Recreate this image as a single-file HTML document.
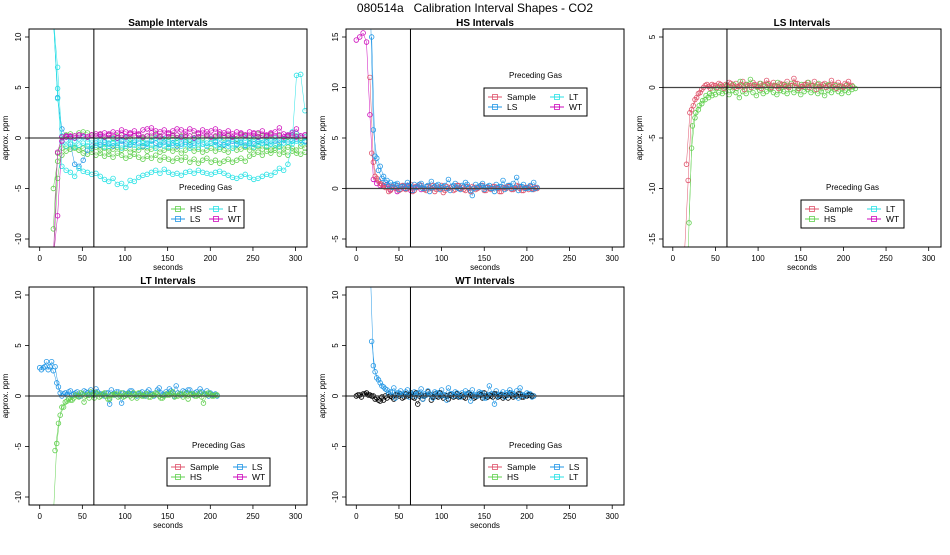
<!DOCTYPE html>
<html><head><meta charset="utf-8"><style>
body{margin:0;background:#fff;width:950px;height:550px;overflow:hidden}
svg{font-family:"Liberation Sans",sans-serif}
</style></head><body>
<svg id="chart" width="950" height="550" viewBox="0 0 950 550" xmlns="http://www.w3.org/2000/svg">
<text x="475" y="12" text-anchor="middle" font-size="12" style="white-space:pre">080514a   Calibration Interval Shapes - CO2</text>
</svg>
<script>
const xTicks=[0,50,100,150,200,250,300];
const gasColors={Sample:"#DF536B",HS:"#61D04F",LS:"#2297E6",LT:"#28E2E5",WT:"#CD0BBC",K:"#000000"};
// Panel 1 – Sample intervals (t0=16, dt=5)
const p1_HS_a=[-5.0,-2.3,-1.7,-1.3,-1.1,-1.0,-1.2,-1.5,-1.6,-1.4,-1.7,-1.5,-1.8,-1.6,-1.9,-1.5,-1.7,-2.0,-1.8,-1.6,-1.9,-2.1,-1.8,-2.0,-1.7,-2.2,-1.9,-2.1,-2.3,-2.0,-2.2,-1.9,-2.4,-2.1,-2.5,-2.2,-2.0,-2.4,-2.2,-2.5,-2.3,-2.1,-2.4,-2.2,-2.0,-2.3,-1.8,-1.6,-1.4,-1.7,-1.3,-1.5,-1.2,-1.6,-1.4,-1.7,-1.3,-1.5,-1.6,-1.4];
const p1_HS_b=[-9,-1.5,0.1,0.3,0.4,0.2,0.5,0.6,0.5,0.3,0.2,0.4,0.1,0.3,0,0.2,0.3,0.1,-0.1,0.2,0.3,0,0.2,0.1,0.4,0.2,-0.1,0.1,0.3,0,0.2,0.1,-0.2,0.3,0.1,0,0.2,-0.1,0.1,0.3,0,0.2,0.1,-0.1,0.3,0.2,0,0.1,0.4,0.2,0.1,0.3,0,0.2,-0.1,0.1,0.3,0.2,0,0.1];
const p1_HS_c=[-12,-4,-1.0,-0.8,-1.1,-0.9,-1.2,-1.0,-0.8,-1.1,-0.9,-1.2,-1.0,-1.3,-1.1,-0.9,-1.2,-1.0,-1.4,-1.1,-1.2,-0.9,-1.3,-1.1,-1.0,-1.4,-1.2,-1.0,-1.3,-1.1,-1.5,-1.2,-1.0,-1.3,-1.1,-1.4,-1.2,-1.0,-1.3,-1.1,-1.2,-1.4,-1.0,-1.2,-1.1,-0.9,-1.2,-1.0,-0.8,-1.1,-0.9,-1.2,-1.0,-0.8,-1.1,-0.9,-1.0,-1.2,-0.8,-1.0];
const p1_LS=[12,4.0,0.9,0.2,-0.6,-2.6,-2.8,-2.2,-1.2,-0.8,-0.5,-0.7,-0.4,-0.6,-0.8,-0.5,-0.3,-0.6,-0.7,-0.4,-0.5,-0.8,-0.6,-0.3,-0.5,-0.7,-0.4,-0.6,-0.5,-0.8,-0.6,-0.4,-0.7,-0.5,-0.3,-0.6,-0.8,-0.5,-0.4,-0.6,-0.7,-0.5,-0.3,-0.6,-0.4,-0.7,-0.5,-0.6,-0.3,-0.5,-0.4,-0.6,-0.3,-0.5,-0.2,-0.4,-0.3,-0.1,-0.2,-0.3];
const p1_LT_a=[12,4.9,-2.8,-3.2,-3.4,-3.8,-3.0,-3.3,-3.4,-3.6,-3.5,-3.8,-4.1,-4.3,-4.0,-4.6,-4.5,-4.9,-4.2,-4.3,-3.9,-3.7,-3.6,-3.4,-3.2,-3.5,-3.1,-3.4,-3.6,-3.5,-3.7,-3.4,-3.3,-3.5,-3.2,-3.4,-3.5,-3.6,-3.4,-3.3,-3.5,-3.7,-3.9,-4.0,-3.8,-3.6,-3.9,-4.1,-4.0,-3.8,-3.6,-3.7,-3.4,-3.0,-3.2,-2.6,-0.3,6.2,6.3,2.7];
const p1_LT_b=[12,7.0,-0.4,-0.8,-0.6,-0.9,-0.7,-0.5,-0.8,-1.0,-0.7,-0.6,-0.9,-0.8,-0.5,-0.7,-1.0,-0.8,-0.6,-0.7,-0.9,-0.5,-0.8,-0.7,-1.0,-0.6,-0.8,-0.9,-0.7,-0.5,-0.8,-0.6,-1.0,-0.7,-0.9,-0.6,-0.8,-0.5,-0.7,-0.9,-0.6,-0.8,-1.0,-0.7,-0.5,-0.8,-0.6,-0.9,-0.7,-0.5,-0.8,-0.6,-0.7,-0.9,-0.5,-0.4,-0.6,-0.3,-0.5,-0.4];
const p1_LT_c=[12,3.9,0.2,-0.2,0.0,-0.3,-0.1,0.1,-0.4,-0.2,-0.3,0.0,-0.2,-0.5,-0.1,-0.3,-0.2,0.0,-0.4,-0.2,-0.1,-0.3,-0.5,-0.2,0.0,-0.3,-0.1,-0.4,-0.2,-0.3,0.0,-0.2,-0.4,-0.1,-0.3,-0.2,-0.5,-0.1,-0.3,0.0,-0.2,-0.4,-0.1,-0.3,-0.2,0.0,-0.3,-0.1,-0.4,-0.2,-0.1,-0.3,0.0,-0.2,-0.1,0.3,0.6,0.4,0.2,0.1];
const p1_WT_a=[-12,-1.4,0.1,0.2,0.1,0.2,0.3,0.2,0.1,0.3,0.4,0.3,0.5,0.4,0.6,0.5,0.8,0.6,0.5,0.7,0.4,0.8,0.9,1.0,0.7,0.6,0.8,0.5,0.7,0.9,0.8,0.6,0.9,0.7,0.5,0.8,0.6,0.7,0.9,0.6,0.5,0.7,0.4,0.6,0.5,0.3,0.6,0.4,0.5,0.7,0.3,0.5,0.6,1.0,0.4,0.3,0.5,0.9,0.2,0.3];
const p1_WT_b=[-12,-7.7,-0.3,0.1,0.2,0.0,0.3,0.2,0.1,0.3,0.2,0.4,0.1,0.3,0.2,0.0,0.3,0.1,0.4,0.2,0.3,0.1,0.2,0.5,0.3,0.1,0.2,0.4,0.2,0.3,0.1,0.3,0.2,0.0,0.4,0.2,0.3,0.1,0.2,0.4,0.2,0.3,0.1,0.2,0.4,0.3,0.2,0.5,0.1,0.3,0.2,0.4,0.2,0.3,0.1,0.2,0.3,0.1,0.2,0.3];
// Panel 2 – HS intervals
const p2_WT=[14.7,15.0,15.4,14.5,7.3,0.9,0.5,0.3,0.2,0.4,-0.1,0.1,-0.3,0.2,0.0,0.3,-0.2,0.1,0.2,-0.1];
const p2_S_a=[11,2.6,1.0,0.5,0.3,0.2,-0.2,0.1,0.3,-0.1,0.2,0.0,0.4,-0.2,0.1,0.3,-0.1,0.2,0.0,-0.3,0.1,0.3,-0.2,0.0,0.2,-0.1,0.3,0.1,-0.2,0.0,0.2,-0.1,0.1,0.3,-0.2,0.0,0.2,0.1,-0.3,0.1,0.0,0.2,-0.1,0.3,0.0,-0.2,0.1,0.2,-0.1,0.0];
const p2_S_b=[3.5,1.2,0.8,0.4,0.1,-0.3,0.2,0.0,-0.2,0.3,-0.1,0.1,-0.3,0.2,0.4,0.0,-0.2,0.1,0.3,-0.1,0.0,-0.4,0.2,0.1,-0.2,0.3,0.0,-0.1,0.2,-0.3,0.1,0.0,0.3,-0.2,0.1,-0.1,0.2,0.0,-0.3,0.1,0.2,-0.1,0.0,0.2,-0.2,0.1,-0.1,0.0,0.1];
const p2_LS_a=[20,5.8,3.0,2.2,1.2,0.8,0.6,0.4,0.5,0.2,0.3,0.6,0.1,0.4,0.2,0.5,0.0,0.3,0.7,0.2,0.4,0.1,0.3,0.9,0.2,0.5,0.0,0.3,0.6,0.1,-0.7,0.4,0.2,0.5,0.1,0.3,0.0,0.4,0.2,0.8,0.1,0.3,0.5,1.1,0.2,0.4,0.0,0.3,0.6,0.1];
const p2_LS_b=[15,3.2,1.8,1.0,0.6,0.3,0.1,0.4,-0.1,0.2,0.0,0.3,-0.2,0.1,0.4,0.0,0.2,-0.3,0.1,0.3,-0.1,0.2,0.0,-0.2,0.3,0.1,-0.1,0.2,0.4,-0.2,0.0,0.1,0.3,-0.1,0.2,0.0,-0.3,0.1,0.2,-0.1,0.3,0.0,0.1,-0.2,0.2,0.0,0.1,-0.1,0.0];
// Panel 3 – LS intervals
const p3_S_a=[-16,-9.2,-2.2,-1.2,-0.6,-0.2,0.2,0.1,0.3,0.2,0.4,0.1,0.3,0.5,0.2,0.4,0.1,0.6,0.3,0.2,0.5,0.1,0.4,0.3,0.7,0.2,0.5,0.1,0.4,0.3,0.6,0.2,0.9,0.4,0.1,0.3,0.5,0.2,0.6,0.3,0.1,0.4,0.2,0.7,0.3,0.5,0.1,0.4,0.6,0.2];
const p3_S_b=[-7.6,-2.5,-1.8,-1.0,-0.5,0.0,0.3,-0.1,0.2,0.0,0.3,-0.1,0.2,0.4,0.0,0.1,0.3,-0.2,0.2,0.0,0.3,0.1,-0.1,0.2,0.4,0.0,0.2,-0.1,0.3,0.1,0.0,0.2,0.4,-0.1,0.1,0.3,0.0,0.2,-0.2,0.1,0.3,0.0,0.2,0.1,-0.1,0.2,0.0,0.3,0.1];
const p3_HS_a=[-16,-6.0,-3.0,-2.2,-1.6,-1.2,-1.0,-0.8,-0.7,-0.5,-0.6,-0.4,-0.7,-0.3,-0.5,-1.0,-0.4,-0.6,-0.2,-0.5,-0.8,-0.3,-0.6,-0.4,-0.2,-0.5,-0.7,-0.3,-0.4,-0.6,-0.2,-0.5,-0.3,-0.7,-0.4,-0.2,-0.5,-0.3,-0.6,-0.4,-0.8,-0.3,-0.5,-0.2,-0.4,-0.6,-0.3,-0.5,-0.2,-0.1];
const p3_HS_b=[-13.4,-3.8,-2.5,-1.8,-1.3,-0.8,-0.6,-0.3,-0.1,0.1,-0.2,0.2,0.0,0.3,-0.1,0.6,0.1,0.3,0.8,0.2,0.0,0.4,0.1,0.3,-0.1,0.2,0.5,0.0,0.3,0.1,0.4,0.2,-0.1,0.3,0.0,0.5,0.2,0.1,0.4,-0.1,0.2,0.3,0.0,0.2,0.1,-0.1,0.2,0.0,0.1];
// Panel 4 – LT intervals
const p4_LS_a=[2.8,2.8,3.4,2.9,2.5,1.3,0.3,0.2,0.1,0.5,0.2,0.4,0.0,0.5,0.3,0.6,0.1,0.4,0.2,0.0,0.3,0.6,0.1,0.4,-0.7,0.2,0.3,0.5,0.1,0.2,0.4,0.0,0.6,0.2,0.3,0.8,0.1,0.4,0.7,0.3,1.0,0.2,0.5,0.3,0.6,0.1,0.4,0.7,0.2,0.5,0.3,0.1,0.0];
const p4_LS_b=[2.6,2.9,2.6,3.4,2.9,0.9,0.0,0.3,0.4,0.1,0.3,0.0,0.2,0.4,0.1,0.3,0.7,0.2,0.1,0.3,-0.8,0.2,0.4,0.0,0.3,0.1,0.5,0.2,0.0,0.3,0.1,0.4,0.2,0.0,0.6,0.3,0.1,0.2,0.5,0.0,0.3,0.1,0.4,0.6,0.2,0.3,0.1,0.4,0.2,0.0,0.1,0.2];
const p4_HS_a=[-12,-4.7,-1.9,-1.1,-0.5,-0.4,-0.2,0.0,0.3,-0.6,0.1,0.4,-0.2,0.2,0.0,0.3,-0.3,0.1,0.2,-0.1,0.3,0.0,0.2,-0.2,0.1,0.3,0.0,0.2,-0.1,0.1,0.3,0.0,-0.2,0.2,0.1,0.4,0.0,0.2,-0.1,0.3,0.1,0.2,0.0,0.3,-0.7,0.1,0.2,0.0,0.1];
const p4_HS_b=[-5.4,-2.7,-1.1,-0.6,-0.3,-0.4,0.1,-0.1,0.2,0.0,-0.2,0.1,0.3,-0.1,0.2,0.0,-0.3,0.1,0.2,0.0,-0.1,0.2,0.0,0.3,-0.2,0.1,0.0,0.2,-0.1,0.1,0.2,-0.2,0.0,0.1,0.3,-0.1,0.0,0.2,0.1,-0.3,0.2,0.0,0.1,-0.1,0.2,0.3,0.0,0.1];
// Panel 5 – WT intervals
const p5_K_a=[0.0,0.1,0.2,0.3,0.1,0.0,-0.2,-0.5,-0.4,-0.2,0.0,-0.3,0.1,0.2,-0.1,0.0,0.3,-0.2,-0.8,0.1,0.0,0.4,-0.4,0.2,-0.1,0.0,0.1,-0.3,0.2,0.0,-0.1,0.1,-0.2,0.3,0.0,-0.1,0.2,-0.2,0.0,0.1,-0.1,0.2,0.0,-0.2,0.1,0.3,-0.1,0.0,0.2,-0.1,0.0,0.1,0.0];
const p5_K_b=[0.1,-0.1,0.2,0.1,0.0,-0.3,-0.4,-0.1,0.0,0.2,-0.1,0.1,0.0,-0.2,0.2,0.1,-0.1,0.3,0.0,-0.3,0.1,0.2,-0.1,0.0,0.3,-0.2,0.0,0.1,-0.1,0.2,0.0,-0.1,0.2,0.1,-0.2,0.0,0.1,0.3,-0.1,0.0,0.2,-0.1,0.1,0.0,-0.2,0.1,0.0,0.2,-0.1,0.0,0.1,0.0];
const p5_LS_a=[14,3.0,1.8,1.3,0.9,0.6,0.4,0.8,0.3,0.5,0.2,0.6,0.1,0.4,0.3,0.7,0.2,0.5,0.0,0.4,0.3,0.6,0.1,0.8,0.2,0.4,0.0,0.3,0.5,0.2,0.6,0.1,0.4,0.3,-0.2,1.0,0.2,0.5,0.1,0.4,0.3,0.6,0.2,0.5,0.8,0.1,0.3,0.2,0.0];
const p5_LS_b=[5.4,2.4,1.6,1.0,0.7,0.2,0.4,-0.2,0.3,0.1,0.4,-0.1,0.2,0.0,0.3,-0.3,0.1,0.2,-0.2,0.3,0.0,0.1,-0.4,0.2,0.0,0.3,-0.1,0.1,0.2,-0.5,0.1,0.0,0.3,-0.2,0.1,0.2,-0.8,0.0,0.2,-0.1,0.1,0.3,0.0,-0.2,0.1,0.0,0.2,-0.1];

const panels=[
 {id:"sample",title:"Sample Intervals",bx:29,by:29,x0:39.7,yTicks:[-10,-5,0,5,10],yTop:10,yBot:-10,
  series:[["HS",p1_HS_a,16,5],["HS",p1_HS_c,16,5],["LS",p1_LS,16,5],["LT",p1_LT_a,16,5],["LT",p1_LT_b,16,5],["HS",p1_HS_b,16,5],["LT",p1_LT_c,16,5],["WT",p1_WT_b,16,5],["WT",p1_WT_a,16,5]],
  legend:{x:167,y:200,w:77,items:["HS","LT","LS","WT"],colW:38}},
 {id:"hs",title:"HS Intervals",bx:346,by:29,x0:356.3,yTicks:[-5,0,5,10,15],yTop:15,yBot:-5,
  series:[["WT",p2_WT,0,4],["Sample",p2_S_a,16,4],["LS",p2_LS_a,16,4],["Sample",p2_S_b,18,4],["LS",p2_LS_b,18,4]],
  legend:{x:484,y:88,w:103,items:["Sample","LT","LS","WT"],colW:62}},
 {id:"ls",title:"LS Intervals",bx:663,by:29,x0:672.8,yTicks:[-15,-10,-5,0,5],yTop:5,yBot:-15,
  series:[["HS",p3_HS_a,18,4],["Sample",p3_S_a,14,4],["HS",p3_HS_b,19,4],["Sample",p3_S_b,16,4]],
  legend:{x:801,y:200,w:103,items:["Sample","LT","HS","WT"],colW:62}},
 {id:"lt",title:"LT Intervals",bx:29,by:287,x0:39.7,yTicks:[-10,-5,0,5,10],yTop:10,yBot:-10,
  series:[["LS",p4_LS_a,0,4],["LS",p4_LS_b,2,4],["HS",p4_HS_a,16,4],["HS",p4_HS_b,18,4]],
  legend:{x:167,y:458,w:103,items:["Sample","LS","HS","WT"],colW:62}},
 {id:"wt",title:"WT Intervals",bx:346,by:287,x0:356.3,yTicks:[-10,-5,0,5,10],yTop:10,yBot:-10,
  series:[["K",p5_K_a,0,4],["LS",p5_LS_a,16,4],["K",p5_K_b,2,4],["LS",p5_LS_b,18,4]],
  legend:{x:484,y:458,w:103,items:["Sample","LS","HS","LT"],colW:62}}
];
const NS="http://www.w3.org/2000/svg";
const svg=document.getElementById("chart");
const BW=278,BH=218,XS=0.853,YPX=10.1;
function mk(tag,attrs,parent){const e=document.createElementNS(NS,tag);for(const k in attrs)e.setAttribute(k,attrs[k]);(parent||svg).appendChild(e);return e;}
panels.forEach((p,pi)=>{
  const g=mk("g",{});
  
  
  const xS=t=>p.x0+t*XS;
  const yZero=p.by+8+p.yTop*YPX;
  const yS=v=>yZero-v*YPX;
  const cp=mk("clipPath",{id:"clip"+pi},g);
  mk("rect",{x:p.bx,y:p.by,width:BW,height:BH},cp);
  const plot=mk("g",{"clip-path":"url(#clip"+pi+")"},g);
  p.series.forEach((s,si)=>{
    const col=gasColors[s[0]],vals=s[1],t0=s[2],dt=s[3];
    const sg=mk("g",{},plot);
    
    
    let d="";
    vals.forEach((v,i)=>{d+=(i?"L":"M")+xS(t0+i*dt).toFixed(1)+","+yS(v).toFixed(1);});
    mk("path",{d:d,fill:"none",stroke:col,"stroke-width":0.5},sg);
    vals.forEach((v,i)=>{
      const c=mk("circle",{cx:xS(t0+i*dt),cy:yS(v),r:2.3,fill:"none",stroke:col,"stroke-width":0.8},sg);
      
      
    });
  });
  const hz=mk("line",{x1:p.bx,x2:p.bx+BW,y1:yS(0),y2:yS(0),stroke:"#444","stroke-width":1.3},g);
  
  
  const vl=mk("line",{x1:xS(63.5),x2:xS(63.5),y1:p.by,y2:p.by+BH,stroke:"#000","stroke-width":1},g);
  
  
  const box=mk("rect",{x:p.bx,y:p.by,width:BW,height:BH,fill:"none",stroke:"#000","stroke-width":1},g);
  
  
  const tt=mk("text",{x:p.bx+BW/2,y:p.by-3,"text-anchor":"middle","font-size":"10","font-weight":"bold"},g);
  tt.textContent=p.title;
  
  
  xTicks.forEach(t=>{
    const x=xS(t);
    mk("line",{x1:x,x2:x,y1:p.by+BH,y2:p.by+BH+4,stroke:"#000","stroke-width":0.8},g);
    const l=mk("text",{x:x,y:p.by+BH+14,"text-anchor":"middle","font-size":"8"},g);
    l.textContent=t;
    
    
  });
  p.yTicks.forEach(v=>{
    const y=yS(v);
    mk("line",{x1:p.bx-4,x2:p.bx,y1:y,y2:y,stroke:"#000","stroke-width":0.8},g);
    const l=mk("text",{x:p.bx-8,y:y,"text-anchor":"middle","font-size":"8",transform:"rotate(-90 "+(p.bx-8)+" "+y+")"},g);
    l.textContent=v;
    
    
  });
  const xl=mk("text",{x:p.bx+BW/2,y:p.by+BH+23,"text-anchor":"middle","font-size":"8"},g);
  xl.textContent="seconds";
  
  
  const yx=p.bx-21,yy=p.by+BH/2;
  const yl=mk("text",{x:yx,y:yy,"text-anchor":"middle","font-size":"8",transform:"rotate(-90 "+yx+" "+yy+")"},g);
  yl.textContent="approx. ppm";
  
  
  const L=p.legend;
  const lg=mk("g",{},g);
  
  
  const lt=mk("text",{x:L.x+L.w/2,y:L.y-10,"text-anchor":"middle","font-size":"8"},lg);
  lt.textContent="Preceding Gas";
  mk("rect",{x:L.x,y:L.y,width:L.w,height:28,fill:"#fff",stroke:"#000","stroke-width":1},lg);
  L.items.forEach((name,k)=>{
    const col=k%2,row=Math.floor(k/2);
    const ex=L.x+4+col*L.colW,ey=L.y+9+row*10,c=gasColors[name];
    const eg=mk("g",{},lg);
    
    
    mk("line",{x1:ex,x2:ex+14,y1:ey,y2:ey,stroke:c,"stroke-width":1},eg);
    mk("rect",{x:ex+4.5,y:ey-2.5,width:5,height:5,fill:"none",stroke:c,"stroke-width":0.8},eg);
    const et=mk("text",{x:ex+19,y:ey+3,"font-size":"8.5"},eg);
    et.textContent=name;
  });
});
</script>
</body></html>
